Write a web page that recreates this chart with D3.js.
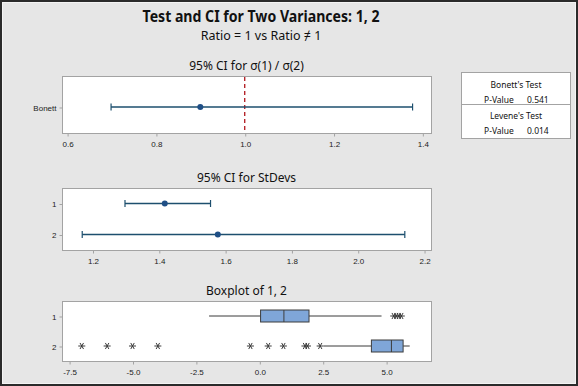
<!DOCTYPE html>
<html>
<head>
<meta charset="utf-8">
<script src="https://cdn.jsdelivr.net/npm/d3@7"></script>
<style>
  html, body { margin: 0; padding: 0; background: #e6e6e6; }
  svg { display: block; font-family: "Noto Sans", "Open Sans", sans-serif; }
</style>
</head>
<body>
<div id="chart"></div>
<script>
// CI for ratio of sigmas
var ratioLabels = ['Bonett']
var ratioEst = [0.900]
var ratioLo = [0.699]
var ratioHi = [1.378]
var ratioTicks = [0.6, 0.8, 1.0, 1.2, 1.4]

// CI for st devs
var sdGroups = ['1', '2']
var sdEst = [1.418, 1.578]
var sdLo = [1.298, 1.169]
var sdHi = [1.556, 2.142]
var sdTicks = [1.2, 1.4, 1.6, 1.8, 2.0, 2.2]

// boxplot
var boxGroups = ['1', '2']
var boxWhiskLo = [-1.98, 2.54]
var boxQ1 = [0.05, 4.42]
var boxMed = [0.97, 5.21]
var boxQ3 = [1.96, 5.67]
var boxWhiskHi = [4.82, 5.93]
var outliers1 = [5.3, 5.4, 5.5, 5.6]
var outliers2 = [-7.0, -6.0, -5.0, -4.0, -0.35, 0.35, 0.95, 1.8, 1.9, 2.4]
var boxTicks = [-7.5, -5.0, -2.5, 0.0, 2.5, 5.0]

// test results
var testNames = ["Bonett's Test", "Levene's Test"]
var testP = ['0.541', '0.014']

var W = 578, H = 386
var left = 62, right = 431
var lineCol = '#1d4f6e', dotCol = '#1f4f86', frameCol = '#a3a3a3'

var svg = d3.select('#chart').append('svg').attr('width', W).attr('height', H)

svg.append('rect').attr('x', 1).attr('y', 1).attr('width', W - 2).attr('height', H - 2)
    .attr('fill', '#e6e6e6').attr('stroke', '#2b2b2b').attr('stroke-width', 2)
svg.append('rect').attr('x', 2.5).attr('y', 2.5).attr('width', W - 5).attr('height', H - 5)
    .attr('fill', 'none').attr('stroke', '#f4f4f4').attr('stroke-width', 1)

svg.append('text').attr('x', 261).attr('y', 22).attr('text-anchor', 'middle')
    .attr('font-size', 16).attr('font-weight', 'bold').attr('fill', '#111')
    .attr('textLength', 237).attr('lengthAdjust', 'spacingAndGlyphs')
    .text('Test and CI for Two Variances: 1, 2')
svg.append('text').attr('x', 261).attr('y', 40).attr('text-anchor', 'middle')
    .attr('font-size', 12.5).attr('fill', '#111')
    .text('Ratio = 1 vs Ratio \u2260 1')

function panel(title, top, bottom, domain, ticks, cats, catRange) {
    var g = svg.append('g')
    var x = d3.scaleLinear().domain(domain).range([left, right])
    var y = d3.scalePoint().domain(cats).range(catRange || [top, bottom]).padding(0.5)

    g.append('rect').attr('x', left + 0.5).attr('y', top + 0.5)
        .attr('width', right - left).attr('height', bottom - top)
        .attr('fill', 'white').attr('stroke', frameCol)

    g.append('text').attr('x', (left + right) / 2).attr('y', top - 6)
        .attr('text-anchor', 'middle').attr('font-size', 12).attr('fill', '#111')
        .text(title)

    var xa = g.append('g').attr('transform', `translate(0.5,${bottom + 0.5})`)
        .call(d3.axisBottom(x).tickValues(ticks).tickFormat(d3.format('.1f')).tickSize(3).tickSizeOuter(0))
    xa.select('.domain').remove()
    xa.selectAll('line').attr('stroke', frameCol)
    xa.selectAll('text').attr('font-size', 8).attr('fill', '#222').attr('dy', '0.9em')
        .text(function() { return this.textContent.replace('\u2212', '-') })

    var ya = g.append('g').attr('transform', `translate(${left + 0.5},0.5)`)
        .call(d3.axisLeft(y).tickSize(3).tickSizeOuter(0))
    ya.select('.domain').remove()
    ya.selectAll('line').attr('stroke', frameCol)
    ya.selectAll('text').attr('font-size', 8).attr('fill', '#222')

    return {g: g, x: x, y: y}
}

function ciRows(p, cats, est, lo, hi) {
    var rows = cats.map((c, i) => ({c: c, est: est[i], lo: lo[i], hi: hi[i]}))
    var r = p.g.selectAll('.ci').data(rows).enter().append('g')
    r.append('line').attr('x1', d => p.x(d.lo)).attr('x2', d => p.x(d.hi))
        .attr('y1', d => p.y(d.c)).attr('y2', d => p.y(d.c))
        .attr('stroke', lineCol).attr('stroke-width', 1.3)
    r.append('line').attr('x1', d => p.x(d.lo)).attr('x2', d => p.x(d.lo))
        .attr('y1', d => p.y(d.c) - 3.5).attr('y2', d => p.y(d.c) + 3.5)
        .attr('stroke', lineCol).attr('stroke-width', 1.2)
    r.append('line').attr('x1', d => p.x(d.hi)).attr('x2', d => p.x(d.hi))
        .attr('y1', d => p.y(d.c) - 3.5).attr('y2', d => p.y(d.c) + 3.5)
        .attr('stroke', lineCol).attr('stroke-width', 1.2)
    r.append('circle').attr('cx', d => p.x(d.est)).attr('cy', d => p.y(d.c))
        .attr('r', 3).attr('fill', dotCol)
}

// panel 1
var p1 = panel('95% CI for \u03c3(1) / \u03c3(2)', 76, 133, [0.5885, 1.4195], ratioTicks, ratioLabels, [81, 133])
p1.g.append('line').attr('x1', p1.x(1)).attr('x2', p1.x(1)).attr('y1', 77).attr('y2', 133)
    .attr('stroke', '#b0161c').attr('stroke-width', 1.3).attr('stroke-dasharray', '4,3')
ciRows(p1, ratioLabels, ratioEst, ratioLo, ratioHi)

// panel 2
var p2 = panel('95% CI for StDevs', 188, 250, [1.108, 2.221], sdTicks, sdGroups)
ciRows(p2, sdGroups, sdEst, sdLo, sdHi)

// panel 3
var p3 = panel('Boxplot of 1, 2', 301, 361, [-7.78, 6.77], boxTicks, boxGroups)
var boxes = boxGroups.map((c, i) => ({c: c, wl: boxWhiskLo[i], q1: boxQ1[i], md: boxMed[i], q3: boxQ3[i], wh: boxWhiskHi[i]}))
var bg = p3.g.selectAll('.box').data(boxes).enter().append('g')
bg.append('line').attr('x1', d => p3.x(d.wl)).attr('x2', d => p3.x(d.q1))
    .attr('y1', d => p3.y(d.c)).attr('y2', d => p3.y(d.c)).attr('stroke', '#3a3a3a')
bg.append('line').attr('x1', d => p3.x(d.q3)).attr('x2', d => p3.x(d.wh))
    .attr('y1', d => p3.y(d.c)).attr('y2', d => p3.y(d.c)).attr('stroke', '#3a3a3a')
bg.append('rect').attr('x', d => p3.x(d.q1)).attr('width', d => p3.x(d.q3) - p3.x(d.q1))
    .attr('y', d => p3.y(d.c) - 6).attr('height', 12)
    .attr('fill', '#7fa6d8').attr('stroke', '#3d3d3d').attr('stroke-width', 1)
bg.append('line').attr('x1', d => p3.x(d.md)).attr('x2', d => p3.x(d.md))
    .attr('y1', d => p3.y(d.c) - 6).attr('y2', d => p3.y(d.c) + 6).attr('stroke', '#3d3d3d')

var outs = outliers1.map(v => ({c: '1', v: v})).concat(outliers2.map(v => ({c: '2', v: v})))
p3.g.selectAll('.out').data(outs).enter().append('path')
    .attr('d', d3.symbol(d3.symbolAsterisk, 34))
    .attr('transform', d => `translate(${p3.x(d.v)},${p3.y(d.c)}) rotate(90)`)
    .attr('fill', 'none').attr('stroke', '#3a3a3a').attr('stroke-width', 1)

// table of p-values
var tb = svg.append('g')
tb.append('rect').attr('x', 461.5).attr('y', 72.5).attr('width', 109).attr('height', 66)
    .attr('fill', 'white').attr('stroke', frameCol)
tb.append('line').attr('x1', 461.5).attr('x2', 570.5).attr('y1', 104.5).attr('y2', 104.5).attr('stroke', frameCol)
testNames.forEach(function(n, i) {
    var y0 = 72 + i * 31
    tb.append('text').attr('x', 516).attr('y', y0 + 16).attr('text-anchor', 'middle')
        .attr('font-size', 8.5).attr('fill', '#111').text(n)
    tb.append('text').attr('x', 484).attr('y', y0 + 31).attr('font-size', 8.5).attr('fill', '#111').text('P-Value')
    tb.append('text').attr('x', 527).attr('y', y0 + 31).attr('font-size', 8.5).attr('fill', '#111').text(testP[i])
})
</script>
</body>
</html>
